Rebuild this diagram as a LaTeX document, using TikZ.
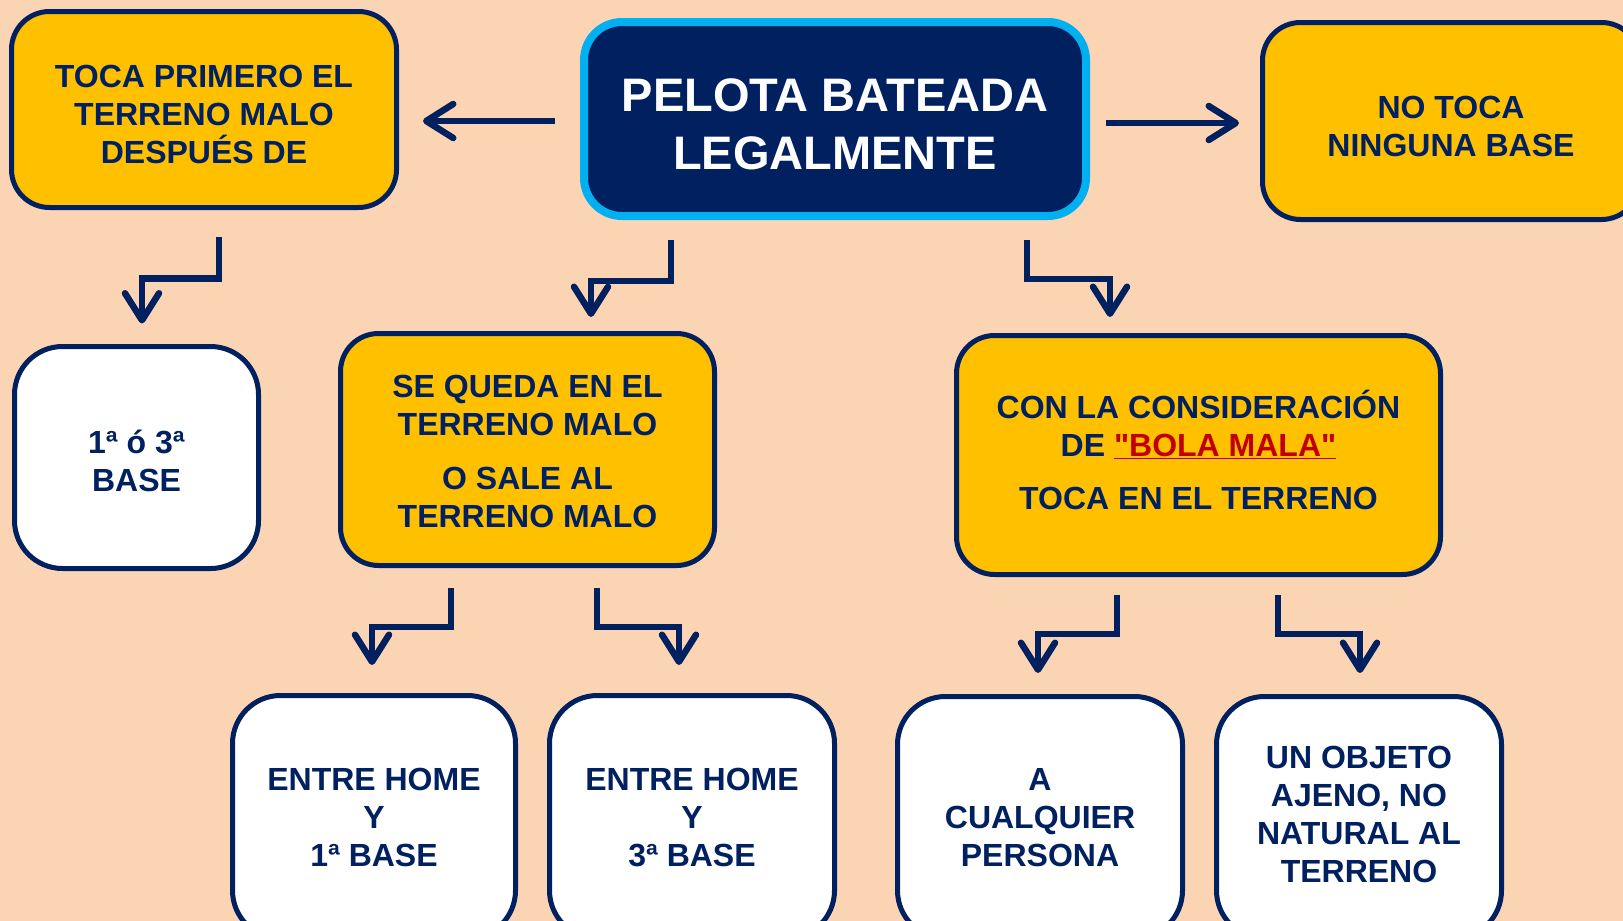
\documentclass[tikz,border=0pt]{standalone}
\usepackage{fontspec}
\setmainfont{Liberation Sans}[Ligatures=TeXOff]
\usepackage{xcolor}
\usetikzlibrary{arrows.meta, positioning, calc}

\definecolor{fondo}{HTML}{FBD4B4}
\definecolor{marino}{HTML}{002060}
\definecolor{amarillo}{HTML}{FFC000}
\definecolor{celeste}{HTML}{00B0F0}
\definecolor{rojo}{HTML}{C00000}

% puntal para bajar la primera linea
\newcommand{\alto}[1]{\rule{0pt}{#1}}

\begin{document}
\begin{tikzpicture}[
        x=1pt, y=-1pt,
        >={Straight Barb[length=27pt, width=34pt, round]},
        caja/.style={rectangle, draw=marino, fill=amarillo, line width=5pt, rounded corners=38pt, outer sep=0pt, inner sep=0pt, align=center, text=marino, font=\fontsize{32}{38}\selectfont\bfseries},
        blanca/.style={caja, fill=white, rounded corners=48pt},
        titulo/.style={caja, draw=celeste, fill=marino, line width=8pt, text=white, font=\fontsize{47}{58}\selectfont\bfseries},
        subir/.style={execute at end node={\rule[-#1]{0pt}{#1}}},
        flecha/.style={->, draw=marino, line width=6.5pt}
    ]

        % ================= FONDO =================
        \fill[fondo] (0,0) rectangle (1623,921);
        \useasboundingbox (0,0) rectangle (1623,921);

        % ================= NODOS =================

        % Fila superior
        \node[titulo, minimum width=502, minimum height=194] (pelota) at (835,119) {\alto{44pt}PELOTA BATEADA\\LEGALMENTE};
        \node[caja, minimum width=385, minimum height=196] (toca) at (204,109.5) {\alto{33pt}TOCA PRIMERO EL\\TERRENO MALO\\DESPUÉS DE};
        \node[caja, minimum width=377, minimum height=197] (ninguna) at (1451,121) {\alto{33pt}NO TOCA\\NINGUNA BASE};

        % Fila central
        \node[blanca, minimum width=244, minimum height=222] (base) at (136.5,457.5) {\alto{30pt}1ª ó 3ª\\BASE};
        \node[caja, minimum width=374, minimum height=232] (queda) at (527.5,449.5) {\alto{27pt}SE QUEDA EN EL\\TERRENO MALO\\[16pt]O SALE AL\\TERRENO MALO};
        \node[caja, subir=10pt, minimum width=484, minimum height=239] (bola) at (1198.5,455) {CON LA CONSIDERACIÓN\\DE {\color{rojo}\underline{"BOLA MALA"}}\\[15pt]TOCA EN EL TERRENO};

        % Fila inferior
        \node[blanca, minimum width=283, minimum height=243] (primera) at (374,817) {ENTRE HOME\\Y\\1ª BASE};
        \node[blanca, minimum width=285, minimum height=243] (tercera) at (692,817) {ENTRE HOME\\Y\\3ª BASE};
        \node[blanca, minimum width=285, minimum height=242] (persona) at (1040,817.5) {A\\CUALQUIER\\PERSONA};
        \node[blanca, subir=6pt, minimum width=285, minimum height=242] (objeto) at (1359,817.5) {UN OBJETO\\AJENO, NO\\NATURAL AL\\TERRENO};

        % ================= FLECHAS =================

        % Hacia los lados
        \draw[flecha] ($(pelota.west)+(-29,2)$) -- ($(toca.east)+(26.5,11.5)$);
        \draw[flecha] ($(pelota.east)+(20,4)$) -- ($(ninguna.west)+(-23.5,2)$);

        % Hacia la fila central
        \draw[flecha] ($(toca.south)+(15,29)$) -- ++(0,42) -| ($(base.north)+(5.5,-23)$);
        \draw[flecha] ($(pelota.south)+(-164,24)$) -- ++(0,41) -| ($(queda.north)+(63.5,-16.5)$);
        \draw[flecha] ($(pelota.south)+(192,24)$) -- ++(0,39) -| ($(bola.north)+(-88.5,-18.5)$);

        % Hacia la fila inferior
        \draw[flecha] ($(queda.south)+(-76.5,22.5)$) -- ++(0,39) -| ($(primera.north)+(-2,-30.5)$);
        \draw[flecha] ($(queda.south)+(69.5,22.5)$) -- ++(0,39) -| ($(tercera.north)+(-13,-30.5)$);
        \draw[flecha] ($(bola.south)+(-81.5,20.5)$) -- ++(0,39) -| ($(persona.north)+(-2,-23.5)$);
        \draw[flecha] ($(bola.south)+(79.5,20.5)$) -- ++(0,39) -| ($(objeto.north)+(1,-23.5)$);

    \end{tikzpicture}
\end{document}
